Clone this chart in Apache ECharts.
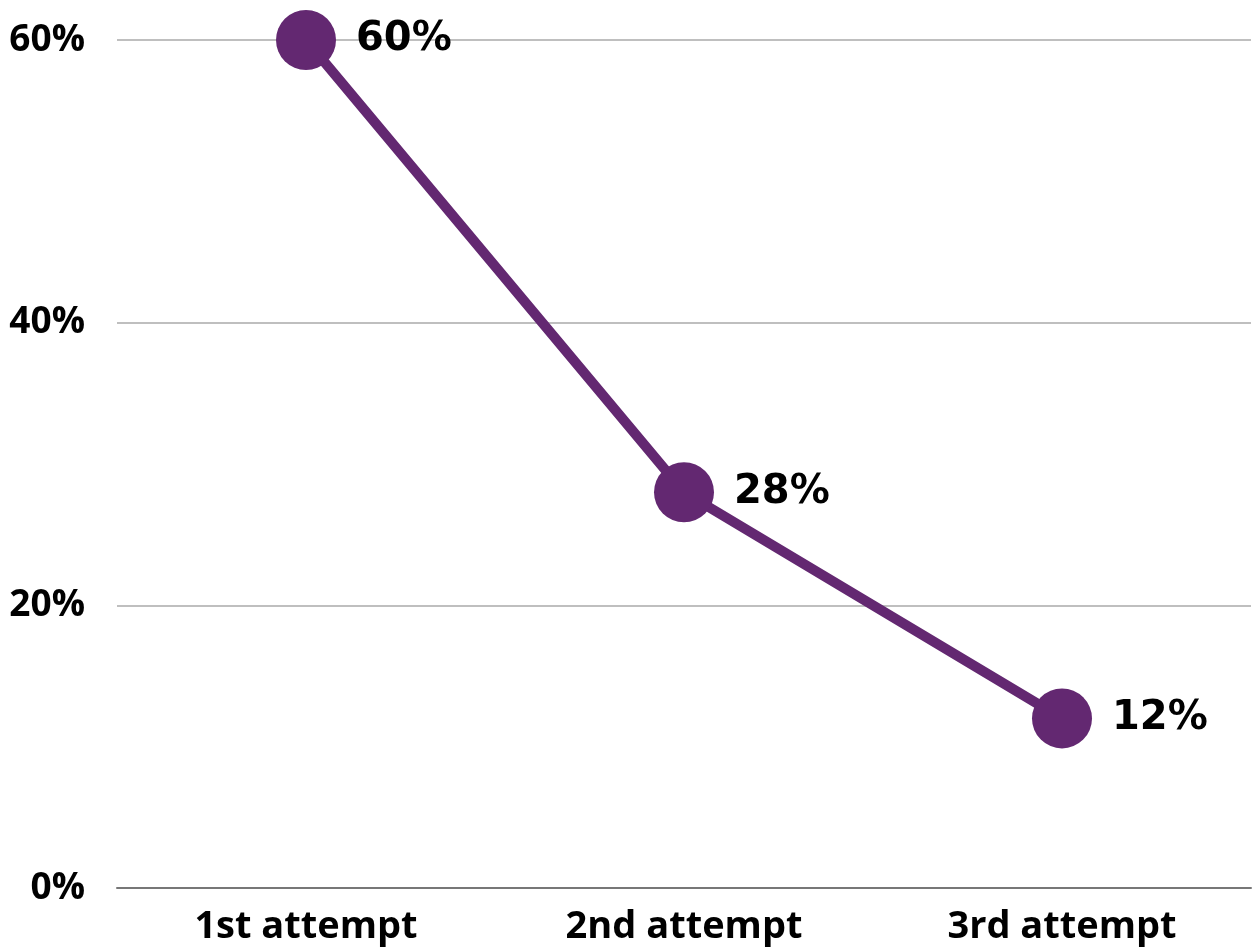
<!DOCTYPE html>
<html><head><meta charset="utf-8">
<script src="https://cdn.jsdelivr.net/npm/echarts@6/dist/echarts.min.js"></script>
<style>html,body{margin:0;padding:0;background:#fff}#c{width:1253px;height:951px}</style>
</head><body><div id="c"></div>
<script>
const categories = ['1st attempt', '2nd attempt', '3rd attempt'];
const values = [60, 28, 12];
const yTicks = [0, 20, 40, 60];

const chart = echarts.init(document.getElementById('c'));
chart.setOption({
  animation: false,
  grid: { left: 117, right: 2, top: 40, bottom: 63 },
  xAxis: {
    type: 'category', data: categories, boundaryGap: true,
    axisLine: { lineStyle: { color: '#777', width: 2 } },
    axisTick: { show: false },
    axisLabel: { color: '#000', fontFamily: 'Open Sans', fontWeight: 'bold', fontSize: 38, margin: 20 }
  },
  yAxis: {
    type: 'value', min: yTicks[0], max: yTicks[yTicks.length - 1], interval: 20,
    axisLine: { show: false }, axisTick: { show: false },
    splitLine: { lineStyle: { color: '#bfbfbf', width: 2 } },
    axisLabel: { color: '#000', fontFamily: 'Open Sans', fontWeight: 'bold', fontSize: 37, margin: 32, formatter: '{value}%' }
  },
  series: [{
    type: 'line', data: values,
    symbol: 'circle', symbolSize: 60,
    lineStyle: { color: '#632871', width: 10 },
    itemStyle: { color: '#632871' },
    label: { show: true, position: 'right', distance: 20, formatter: '{c}%', color: '#000',
      fontFamily: 'DejaVu Sans', fontWeight: 'bold', fontSize: 40 }
  }]
});
</script></body></html>
